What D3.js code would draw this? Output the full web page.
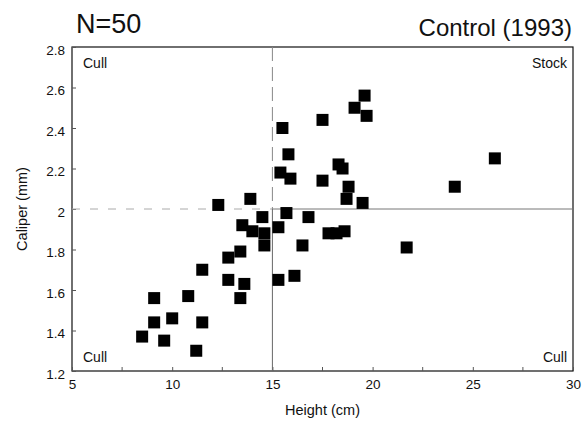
<!DOCTYPE html>
<html>
<head>
<meta charset="utf-8">
<script src="https://cdn.jsdelivr.net/npm/d3@7"></script>
<style>
  html, body { margin: 0; padding: 0; background: #fff; }
  svg { display: block; font-family: "Liberation Sans", Arial, sans-serif; }
</style>
</head>
<body>
<svg id="chart" width="588" height="423"></svg>
<script>
// ---- data ----
const heights = [19.6, 19.1, 19.7, 17.5, 15.5, 15.8, 18.3, 18.5, 15.4, 15.9,
                 17.5, 18.8, 18.7, 19.5, 13.9, 12.3, 14.5, 15.7, 16.8, 13.5,
                 14.0, 14.6, 15.3, 17.8, 18.2, 18.6, 14.6, 16.5, 21.7, 13.4,
                 12.8, 11.5, 12.8, 13.6, 15.3, 16.1, 13.4, 9.1, 10.8, 9.1,
                 10.0, 11.5, 8.5, 9.6, 11.2, 26.1, 24.1];
const calipers = [2.56, 2.50, 2.46, 2.44, 2.40, 2.27, 2.22, 2.20, 2.18, 2.15,
                  2.14, 2.11, 2.05, 2.03, 2.05, 2.02, 1.96, 1.98, 1.96, 1.92,
                  1.89, 1.88, 1.91, 1.88, 1.88, 1.89, 1.82, 1.82, 1.81, 1.79,
                  1.76, 1.70, 1.65, 1.63, 1.65, 1.67, 1.56, 1.56, 1.57, 1.44,
                  1.46, 1.44, 1.37, 1.35, 1.30, 2.25, 2.11];
const xTicks = [5, 10, 15, 20, 25, 30];
const xMinorTicks = [7.5, 12.5, 17.5, 22.5, 27.5];
const yTicks = [1.2, 1.4, 1.6, 1.8, 2.0, 2.2, 2.4, 2.6, 2.8];
const heightCut = 15;
const caliperCut = 2.0;
const titleLeft = "N=50";
const titleRight = "Control (1993)";
const xLabel = "Height (cm)";
const yLabel = "Caliper (mm)";
const quadrantLabels = ["Cull", "Stock", "Cull", "Cull"];

// ---- layout ----
const svg = d3.select("#chart");
const pL = 72, pR = 573, pT = 47, pB = 371;

const x = d3.scaleLinear().domain([5, 30]).range([pL, pR]);
const y = d3.scaleLinear().domain([1.2, 2.8]).range([pB, pT]);

const tickFmt = d => (d === 2 ? "2" : d3.format(".1f")(d));

// Frame
svg.append("rect")
  .attr("x", pL).attr("y", pT)
  .attr("width", pR - pL).attr("height", pB - pT)
  .attr("fill", "none").attr("stroke", "#111").attr("stroke-width", 1.2);

// Y axis (ticks inward)
const yAxis = d3.axisLeft(y).tickValues(yTicks).tickFormat(tickFmt)
  .tickSizeInner(-4).tickSizeOuter(0).tickPadding(7);
const gy = svg.append("g").attr("transform", `translate(${pL},0)`).call(yAxis);
gy.select(".domain").remove();
gy.selectAll("text").attr("font-size", 13.5).attr("fill", "#111")
  .attr("font-family", "Liberation Sans, Arial, sans-serif").attr("dy", "0.55em");
gy.selectAll("line").attr("stroke", "#555");

// X axis (ticks inward)
const xAxis = d3.axisBottom(x).tickValues(xTicks).tickFormat(d3.format("d"))
  .tickSizeInner(-4).tickSizeOuter(0).tickPadding(8);
const gx = svg.append("g").attr("transform", `translate(0,${pB})`).call(xAxis);
gx.select(".domain").remove();
gx.selectAll("text").attr("font-size", 13.5).attr("fill", "#111")
  .attr("font-family", "Liberation Sans, Arial, sans-serif");
gx.selectAll("line").attr("stroke", "#555");

svg.append("g").selectAll("line").data(xMinorTicks).join("line")
  .attr("x1", d => x(d)).attr("x2", d => x(d))
  .attr("y1", pB).attr("y2", pB - 4)
  .attr("stroke", "#555");

// Quadrant division lines
svg.append("line")
  .attr("x1", x(5)).attr("x2", x(heightCut))
  .attr("y1", y(caliperCut)).attr("y2", y(caliperCut))
  .attr("stroke", "#aaa").attr("stroke-width", 1).attr("stroke-dasharray", "8,10");
svg.append("line")
  .attr("x1", x(heightCut)).attr("x2", x(30))
  .attr("y1", y(caliperCut)).attr("y2", y(caliperCut))
  .attr("stroke", "#777").attr("stroke-width", 1);
svg.append("line")
  .attr("x1", x(heightCut)).attr("x2", x(heightCut))
  .attr("y1", y(2.8)).attr("y2", y(caliperCut))
  .attr("stroke", "#888").attr("stroke-width", 1).attr("stroke-dasharray", "14,6");
svg.append("line")
  .attr("x1", x(heightCut)).attr("x2", x(heightCut))
  .attr("y1", y(caliperCut)).attr("y2", y(1.2))
  .attr("stroke", "#666").attr("stroke-width", 1);

// Points
const data = heights.map((h, i) => ({ h, c: calipers[i] }));
const s = 12;
svg.append("g").selectAll("rect").data(data).join("rect")
  .attr("x", d => x(d.h) - s / 2)
  .attr("y", d => y(d.c) - s / 2)
  .attr("width", s).attr("height", s)
  .attr("fill", "#000");

// Quadrant labels
const ql = [
  { t: quadrantLabels[0], x: pL + 11, y: pT + 21, a: "start" },
  { t: quadrantLabels[1], x: pR - 6, y: pT + 21, a: "end" },
  { t: quadrantLabels[2], x: pL + 11, y: pB - 9, a: "start" },
  { t: quadrantLabels[3], x: pR - 6, y: pB - 9, a: "end" }
];
svg.append("g").selectAll("text").data(ql).join("text")
  .attr("x", d => d.x).attr("y", d => d.y)
  .attr("text-anchor", d => d.a)
  .attr("font-size", 14).attr("fill", "#111")
  .text(d => d.t);

// Titles
svg.append("text").attr("x", 76).attr("y", 33)
  .attr("font-size", 27).attr("fill", "#111").text(titleLeft);
svg.append("text").attr("x", 572).attr("y", 36).attr("text-anchor", "end")
  .attr("font-size", 24).attr("fill", "#111").text(titleRight);

// Axis titles
svg.append("text").attr("x", (pL + pR) / 2).attr("y", 415)
  .attr("text-anchor", "middle").attr("font-size", 14.5).attr("fill", "#111")
  .text(xLabel);
svg.append("text")
  .attr("transform", `translate(27,${(pT + pB) / 2}) rotate(-90)`)
  .attr("text-anchor", "middle").attr("font-size", 14.5).attr("fill", "#111")
  .text(yLabel);
</script>
</body>
</html>
